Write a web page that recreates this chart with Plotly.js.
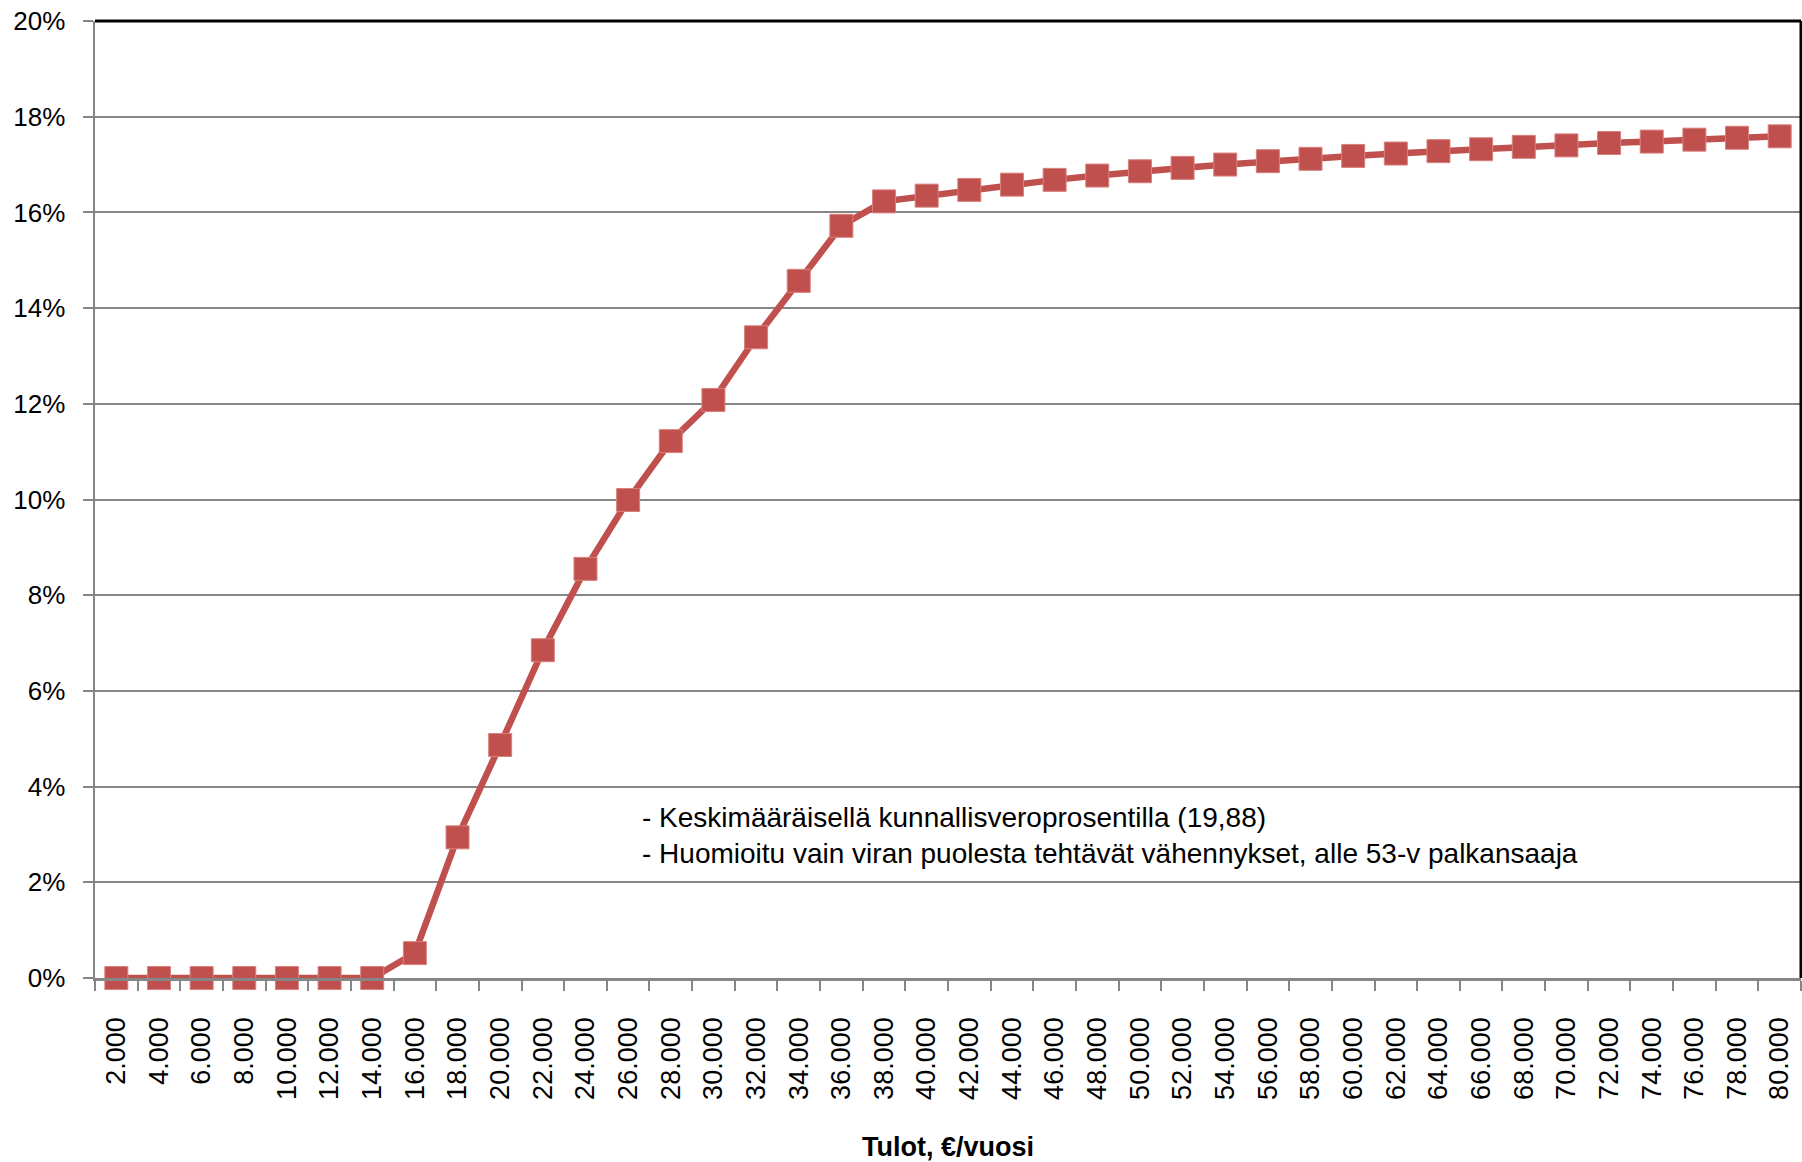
<!DOCTYPE html>
<html>
<head>
<meta charset="utf-8">
<script src="https://cdn.plot.ly/plotly-3.0.1.min.js"></script>
<style>html,body{margin:0;padding:0;background:#fff;}#chart{width:1802px;height:1162px;}</style>
</head>
<body>
<div id="chart"></div>
<script>
// Income categories (€/year)
const incomeLabels = ["2.000","4.000","6.000","8.000","10.000","12.000","14.000","16.000","18.000","20.000",
  "22.000","24.000","26.000","28.000","30.000","32.000","34.000","36.000","38.000","40.000",
  "42.000","44.000","46.000","48.000","50.000","52.000","54.000","56.000","58.000","60.000",
  "62.000","64.000","66.000","68.000","70.000","72.000","74.000","76.000","78.000","80.000"];
// Effective tax rate (fraction)
const taxRate = [0, 0, 0, 0, 0, 0, 0, 0.0052, 0.0294, 0.0487,
  0.0685, 0.0855, 0.0999, 0.1122, 0.1208, 0.1339, 0.1457, 0.1572, 0.1623, 0.1635,
  0.1647, 0.1658, 0.1668, 0.1677, 0.1686, 0.1693, 0.1700, 0.1707, 0.1712, 0.1718,
  0.1723, 0.1728, 0.1732, 0.1737, 0.1740, 0.1745, 0.1748, 0.1752, 0.1756, 0.1759];
const yTickVals = [0, 0.02, 0.04, 0.06, 0.08, 0.10, 0.12, 0.14, 0.16, 0.18, 0.20];
const noteLines = ["- Keskimääräisellä kunnallisveroprosentilla (19,88)",
  "- Huomioitu vain viran puolesta tehtävät vähennykset, alle 53-v palkansaaja"];
const xTitle = "Tulot, €/vuosi";

const red = "#C0504D";
const axisGray = "#868686";
const font = "Liberation Sans, Arial, sans-serif";

const trace = {
  type: "scatter",
  mode: "lines+markers",
  x: incomeLabels,
  y: taxRate,
  cliponaxis: false,
  line: {color: red, width: 6.5},
  marker: {symbol: "square", size: 23, color: red, line: {color: "#D9807E", width: 1}},
  hoverinfo: "x+y"
};

const layout = {
  width: 1802,
  height: 1162,
  margin: {l: 95, r: 1, t: 21, b: 184},
  paper_bgcolor: "#fff",
  plot_bgcolor: "#fff",
  showlegend: false,
  font: {family: font, color: "#000"},
  xaxis: {
    type: "category",
    tickson: "boundaries",
    ticks: "outside",
    ticklen: 10,
    tickwidth: 2,
    tickcolor: axisGray,
    showline: true,
    linecolor: axisGray,
    linewidth: 2.5,
    showgrid: false,
    tickangle: -90,
    tickfont: {family: font, size: 27, color: "#000"},
    ticklabelstandoff: 26,
    title: {text: xTitle, font: {family: font, size: 27, color: "#000", weight: "bold"}, standoff: 44},
    range: [-0.5, incomeLabels.length - 0.5],
    fixedrange: true
  },
  yaxis: {
    range: [0, 0.2],
    tickvals: yTickVals,
    tickformat: ".0%",
    ticks: "outside",
    ticklen: 10,
    tickwidth: 2,
    tickcolor: axisGray,
    showline: true,
    linecolor: axisGray,
    linewidth: 2.5,
    showgrid: true,
    gridcolor: axisGray,
    gridwidth: 2,
    zeroline: false,
    tickfont: {family: font, size: 26, color: "#000"},
    ticklabelstandoff: 12,
    fixedrange: true
  },
  shapes: [
    {type: "line", xref: "paper", yref: "paper", x0: 0, x1: 1, y0: 1, y1: 1, line: {color: "#000", width: 3}, layer: "above"},
    {type: "line", xref: "paper", yref: "paper", x0: 1, x1: 1, y0: 0, y1: 1, line: {color: "#000", width: 3}, layer: "above"}
  ],
  annotations: [{
    xref: "paper", yref: "paper",
    x: 0.3195, y: 0.1484,
    xanchor: "left", yanchor: "middle",
    align: "left",
    showarrow: false,
    text: noteLines.join("<br>"),
    font: {family: font, size: 28, color: "#000"}
  }]
};

Plotly.newPlot("chart", [trace], layout, {displayModeBar: false, staticPlot: true});
</script>
</body>
</html>
